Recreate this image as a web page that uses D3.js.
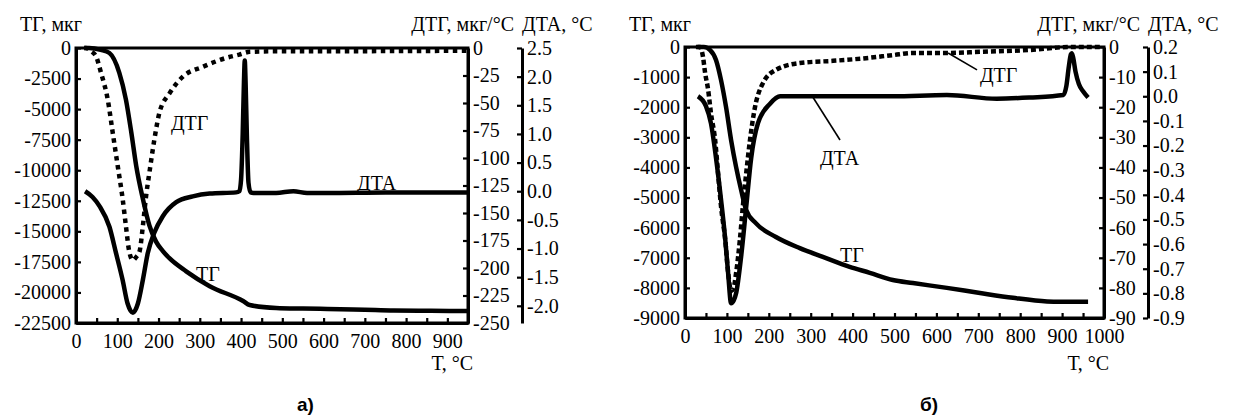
<!DOCTYPE html>
<html>
<head>
<meta charset="utf-8">
<script src="https://cdn.jsdelivr.net/npm/d3@7"></script>
<style>
  body { margin: 0; background: #fff; }
  svg { display: block; }
  text { font-family: "Liberation Serif", "Times New Roman", serif; font-size: 20px; fill: #000; }
  .cap { font-family: "Liberation Sans", Arial, sans-serif; font-weight: bold; font-size: 19px; }
</style>
</head>
<body>
<svg id="chart" width="1234" height="416"></svg>
<script>

// ---- panel a) ----
var tempA_TG = [20, 32, 60, 81, 105, 121, 134, 146, 162, 178, 194, 210, 227, 267, 324, 405, 421, 485, 550, 609, 700, 770, 860, 950];
var tgA      = [0, 0, -150, -406, -2030, -4220, -6900, -9660, -12340, -14540, -15840, -16600, -17220, -18270, -19490, -20700, -21030, -21270, -21320, -21350, -21420, -21480, -21500, -21520];

var tempA_DTG = [20, 24, 37, 49, 61, 77, 89, 101, 113, 121, 129, 138, 146, 154, 162, 170, 178, 190, 202, 227, 259, 308, 364, 396, 421, 485, 600, 750, 950];
var dtgA      = [0, 0, -3, -8, -23, -47, -77, -107, -137, -162, -185, -193, -190, -185, -162, -134, -113, -83, -59, -41, -26, -17, -9, -6, -3.5, -3, -3, -2.8, -2.5];

var tempA_DTA = [22, 40, 57, 81, 97, 113, 125, 138, 150, 162, 174, 190, 210, 243, 283, 324, 388, 396, 400, 404, 407, 409, 411, 414, 418, 423, 430, 485, 527, 560, 609, 750, 950];
var dtaA      = [0.0, -0.1, -0.26, -0.62, -1.08, -1.55, -1.96, -2.12, -1.96, -1.55, -1.08, -0.72, -0.44, -0.19, -0.09, -0.04, -0.02, 0.0, 0.2, 1.0, 1.9, 2.28, 1.9, 1.0, 0.15, -0.02, -0.03, -0.03, 0.0, -0.03, -0.03, -0.02, -0.02];

// ---- panel б) ----
var tempB_TG = [26, 45, 60, 74, 86, 98, 110, 122, 134, 146, 169, 217, 274, 329, 393, 441, 496, 544, 625, 704, 783, 864, 895, 962];
var tgB      = [0, 0, -100, -430, -1100, -2000, -3090, -3990, -4750, -5410, -5850, -6310, -6680, -6970, -7300, -7500, -7740, -7840, -8000, -8170, -8330, -8450, -8460, -8460];

var tempB_DTG = [30, 36, 43, 48, 55, 62, 72, 79, 86, 96, 103, 110, 116, 122, 131, 138, 146, 155, 167, 186, 217, 274, 353, 432, 496, 544, 625, 704, 823, 919, 995];
var dtgB      = [0, 0, -3.3, -8.6, -14, -22, -31, -42, -53, -64, -75, -81, -80, -75, -64, -53, -42, -31, -20, -12, -7.6, -5.3, -4.6, -3.7, -2.7, -2, -2, -1.6, -1, 0, 0];

var tempB_DTA = [31, 50, 62, 74, 86, 96, 103, 110, 116, 122, 134, 146, 158, 174, 203, 227, 313, 400, 496, 625, 744, 823, 903, 910, 916, 921, 923, 926, 932, 940, 950, 962];
var dtaB      = [0.0, -0.04, -0.11, -0.25, -0.42, -0.58, -0.72, -0.84, -0.83, -0.80, -0.65, -0.45, -0.25, -0.11, -0.03, 0.0, 0.0, 0.0, 0.0, 0.005, -0.01, -0.005, 0.005, 0.04, 0.12, 0.17, 0.175, 0.16, 0.10, 0.05, 0.02, -0.005];

// tick values
var xTicksA   = d3.range(0, 951, 50);
var xTicksB   = d3.range(0, 1001, 50);
var tgTicksA  = d3.range(-22500, 1, 2500);
var tgTicksB  = d3.range(-9000, 1, 1000);
var dtgTicksA = d3.range(-250, 1, 25);
var dtgTicksB = d3.range(-90, 1, 10);
var dtaTicksA = [2.5, 2.0, 1.5, 1.0, 0.5, 0.0, -0.5, -1.0, -1.5, -2.0];
var dtaTicksB = [0.2, 0.1, 0.0, -0.1, -0.2, -0.3, -0.4, -0.5, -0.6, -0.7, -0.8, -0.9];

var svg = d3.select("#chart");

function zip(t, v){
  return t.map(function(d, i){ return {t: d, v: v[i]}; });
}

function drawPanel(p){
  var g = svg.append("g");

  var x = d3.scaleLinear().domain(p.xDomain).range([p.left, p.right]);
  var yTG = d3.scaleLinear().domain(p.tgDomain).range([p.bottom, p.top]);
  var yDTG = d3.scaleLinear().domain(p.dtgDomain).range([p.bottom, p.top]);
  var yDTA = d3.scaleLinear().domain(p.dtaDomain).range([p.bottom, p.top]);

  // bottom axis, ticks pointing inside
  var xAxis = d3.axisBottom(x)
    .tickValues(p.xTicks)
    .tickSizeInner(-5).tickSizeOuter(0).tickPadding(11)
    .tickFormat(function(d){ return d % 100 == 0 ? String(d) : ""; });
  g.append("g").attr("transform", "translate(0," + p.bottom + ")").call(xAxis);

  // TG axis on the left
  var yAxis = d3.axisLeft(yTG)
    .tickValues(p.tgTicks)
    .tickSizeInner(-5).tickSizeOuter(0).tickPadding(5)
    .tickFormat(function(d){ return String(d); });
  g.append("g").attr("transform", "translate(" + p.left + ",0)").call(yAxis);

  // DTG axis on the right edge of the plot
  var dtgAxis = d3.axisRight(yDTG)
    .tickValues(p.dtgTicks)
    .tickSizeInner(-5).tickSizeOuter(0).tickPadding(5)
    .tickFormat(function(d){ return String(d); });
  g.append("g").attr("transform", "translate(" + p.right + ",0)").call(dtgAxis);

  // DTA axis, a bit further right
  var dtaAxis = d3.axisRight(yDTA)
    .tickValues(p.dtaTicks)
    .tickSizeInner(-5).tickSizeOuter(0).tickPadding(5)
    .tickFormat(function(d){ return d.toFixed(1); });
  g.append("g").attr("transform", "translate(" + p.dtaX + ",0)").call(dtaAxis);

  g.selectAll("g").attr("font-family", null).attr("font-size", null);
  g.selectAll(".tick line").attr("stroke", "#000").attr("stroke-width", 2.2);
  g.selectAll(".domain").attr("stroke", "#000").attr("stroke-width", 3);
  g.selectAll(".tick text").attr("fill", "#000");

  // frame
  g.append("rect")
    .attr("x", p.left).attr("y", p.top)
    .attr("width", p.right - p.left).attr("height", p.bottom - p.top)
    .attr("fill", "none").attr("stroke", "#000").attr("stroke-width", 3);

  var lineTG = d3.line().curve(d3.curveMonotoneX)
    .x(function(d){ return x(d.t); }).y(function(d){ return yTG(d.v); });
  var lineDTG = d3.line().curve(d3.curveMonotoneX)
    .x(function(d){ return x(d.t); }).y(function(d){ return yDTG(d.v); });
  var lineDTA = d3.line().curve(d3.curveMonotoneX)
    .x(function(d){ return x(d.t); }).y(function(d){ return yDTA(d.v); });

  g.append("path").datum(zip(p.dtgT, p.dtg))
    .attr("d", lineDTG).attr("fill", "none").attr("stroke", "#000")
    .attr("stroke-width", 4.5).attr("stroke-dasharray", p.dash);

  g.append("path").datum(zip(p.dtaT, p.dta))
    .attr("d", lineDTA).attr("fill", "none").attr("stroke", "#000")
    .attr("stroke-width", 4.5).attr("stroke-linejoin", "round");

  g.append("path").datum(zip(p.tgT, p.tg))
    .attr("d", lineTG).attr("fill", "none").attr("stroke", "#000")
    .attr("stroke-width", 4.5).attr("stroke-linejoin", "round");

  // curve names and leader lines
  p.leaders.forEach(function(l){
    g.append("line")
      .attr("x1", x(l[0])).attr("y1", yTG(l[1]))
      .attr("x2", x(l[2])).attr("y2", yTG(l[3]))
      .attr("stroke", "#000").attr("stroke-width", 1.6);
  });
  p.names.forEach(function(n){
    g.append("text").attr("x", x(n.t)).attr("y", yTG(n.v)).text(n.text);
  });

  // axis titles
  g.append("text").attr("x", p.left + 6).attr("y", 31).attr("text-anchor", "end")
    .text("ТГ, мкг");
  g.append("text").attr("x", p.dtaX - 8).attr("y", 31).attr("text-anchor", "end")
    .text("ДТГ, мкг/°С");
  g.append("text").attr("x", p.dtaX).attr("y", 31).text("ДТА, °С");
  g.append("text").attr("x", p.right + 5).attr("y", 370).attr("text-anchor", "end")
    .text("Т, °С");
  g.append("text").attr("class", "cap").attr("x", p.capX).attr("y", 411).text(p.cap);
}

drawPanel({
  left: 76, right: 468, top: 48, bottom: 323, dtaX: 522,
  xDomain: [0, 950], tgDomain: [-22500, 0], dtgDomain: [-250, 0], dtaDomain: [-2.3, 2.5],
  xTicks: xTicksA, tgTicks: tgTicksA, dtgTicks: dtgTicksA, dtaTicks: dtaTicksA,
  tgT: tempA_TG, tg: tgA, dtgT: tempA_DTG, dtg: dtgA, dtaT: tempA_DTA, dta: dtaA,
  dash: "4.5,4.5",
  names: [
    {t: 230, v: -6700, text: "ДТГ"},
    {t: 291, v: -19060, text: "ТГ"},
    {t: 681, v: -11620, text: "ДТА"}
  ],
  leaders: [],
  cap: "а)", capX: 297
});

drawPanel({
  left: 685, right: 1104, top: 47, bottom: 318, dtaX: 1148,
  xDomain: [0, 1000], tgDomain: [-9000, 0], dtgDomain: [-90, 0], dtaDomain: [-0.9, 0.2],
  xTicks: xTicksB, tgTicks: tgTicksB, dtgTicks: dtgTicksB, dtaTicks: dtaTicksB,
  tgT: tempB_TG, tg: tgB, dtgT: tempB_DTG, dtg: dtgB, dtaT: tempB_DTA, dta: dtaB,
  dash: "5,3",
  names: [
    {t: 322, v: -3920, text: "ДТА"},
    {t: 704, v: -1150, text: "ДТГ"},
    {t: 370, v: -7140, text: "ТГ"}
  ],
  leaders: [[305, -1660, 370, -3090], [628, -200, 697, -760]],
  cap: "б)", capX: 920
});

</script>
</body>
</html>
